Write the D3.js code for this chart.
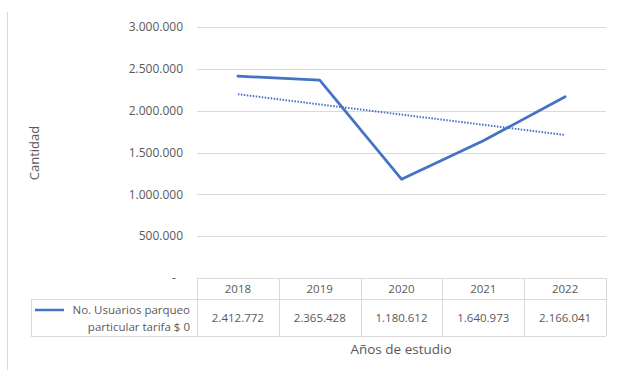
<!DOCTYPE html>
<html>
<head>
<meta charset="utf-8">
<script src="https://cdn.jsdelivr.net/npm/d3@7"></script>
<style>
  body { margin: 0; background: #fff; }
  svg text { font-family: "Open Sans", "Liberation Sans", sans-serif; fill: #595959; }
</style>
</head>
<body>
<svg id="chart" width="617" height="370"></svg>
<script>
const years = ["2018", "2019", "2020", "2021", "2022"];
const usuarios = [2412772, 2365428, 1180612, 1640973, 2166041];
const yTicks = [0, 500000, 1000000, 1500000, 2000000, 2500000, 3000000];
const seriesName = ["No. Usuarios parqueo", "particular tarifa $ 0"];

const svg = d3.select("#chart");
const plotLeft = 197, plotRight = 606, plotTop = 27, plotBottom = 278;
const blue = "#4472C4";

const x = d3.scaleBand().domain(years).range([plotLeft, plotRight]);
const y = d3.scaleLinear().domain([0, 3000000]).range([plotBottom, plotTop]);

const fmt = d3.formatLocale({ decimal: ",", thousands: ".", grouping: [3], currency: ["", ""] }).format(",d");

// outer frame line on the left
svg.append("line").attr("x1", 7.5).attr("x2", 7.5).attr("y1", 12).attr("y2", 370)
  .attr("stroke", "#d9d9d9");

// gridlines
svg.append("g").selectAll("line").data(yTicks.filter(d => d > 0)).join("line")
  .attr("x1", plotLeft).attr("x2", plotRight)
  .attr("y1", d => Math.round(y(d)) + 0.5).attr("y2", d => Math.round(y(d)) + 0.5)
  .attr("stroke", "#d9d9d9").attr("stroke-width", 1);

// y labels
svg.append("g").selectAll("text").data(yTicks).join("text")
  .attr("x", d => d === 0 ? 174 : 183).attr("y", d => y(d))
  .attr("dy", "0.35em").attr("text-anchor", d => d === 0 ? "middle" : "end")
  .attr("font-size", 12)
  .text(d => d === 0 ? "-" : fmt(d));

svg.append("text").attr("transform", "translate(39,153) rotate(-90)")
  .attr("text-anchor", "middle").attr("font-size", 13).text("Cantidad");

// data table
const rowTop = 278, rowMid = 299, rowBot = 336, legLeft = 31;
const tbl = svg.append("g").attr("stroke", "#d9d9d9").attr("fill", "none");
tbl.append("line").attr("x1", plotLeft).attr("x2", plotRight).attr("y1", rowTop + 0.5).attr("y2", rowTop + 0.5);
tbl.append("line").attr("x1", legLeft).attr("x2", plotRight).attr("y1", rowMid + 0.5).attr("y2", rowMid + 0.5);
tbl.append("line").attr("x1", legLeft).attr("x2", plotRight).attr("y1", rowBot + 0.5).attr("y2", rowBot + 0.5);
tbl.append("line").attr("x1", legLeft + 0.5).attr("x2", legLeft + 0.5).attr("y1", rowMid).attr("y2", rowBot);
tbl.selectAll("line.v").data(years.concat(["end"])).join("line").attr("class", "v")
  .attr("x1", d => Math.round(d === "end" ? plotRight : x(d)) + 0.5)
  .attr("x2", d => Math.round(d === "end" ? plotRight : x(d)) + 0.5)
  .attr("y1", rowTop).attr("y2", rowBot);

svg.append("g").selectAll("text").data(years).join("text")
  .attr("x", d => x(d) + x.bandwidth() / 2).attr("y", 289).attr("dy", "0.35em")
  .attr("text-anchor", "middle").attr("font-size", 11.5).text(d => d);

svg.append("g").selectAll("text").data(usuarios).join("text")
  .attr("x", (d, i) => x(years[i]) + x.bandwidth() / 2).attr("y", 318).attr("dy", "0.35em")
  .attr("text-anchor", "middle").attr("font-size", 11.5).text(d => fmt(d));

svg.append("line").attr("x1", 35).attr("x2", 64).attr("y1", 310).attr("y2", 310)
  .attr("stroke", blue).attr("stroke-width", 2.5);
svg.append("g").selectAll("text").data(seriesName).join("text")
  .attr("x", 190).attr("y", (d, i) => 310 + i * 17).attr("dy", "0.35em")
  .attr("text-anchor", "end").attr("font-size", 11.5).text(d => d);

svg.append("text").attr("x", 401).attr("y", 354).attr("text-anchor", "middle")
  .attr("font-size", 13.5).text("Años de estudio");

// linear trendline (least squares, like the spreadsheet trendline)
const n = usuarios.length;
const idx = d3.range(1, n + 1);
const mx = d3.mean(idx), my = d3.mean(usuarios);
const slope = d3.sum(idx, (k, i) => (k - mx) * (usuarios[i] - my)) / d3.sum(idx, k => (k - mx) ** 2);
const trend = idx.map(k => my + slope * (k - mx));

const cx = (d, i) => x(years[i]) + x.bandwidth() / 2;
svg.append("path").datum(trend)
  .attr("d", d3.line().x(cx).y(d => y(d)))
  .attr("fill", "none").attr("stroke", blue).attr("stroke-width", 2)
  .attr("stroke-dasharray", "1.5,1.5");

svg.append("path").datum(usuarios)
  .attr("d", d3.line().x(cx).y(d => y(d)))
  .attr("fill", "none").attr("stroke", blue).attr("stroke-width", 2.75)
  .attr("stroke-linejoin", "round").attr("stroke-linecap", "round");
</script>
</body>
</html>
